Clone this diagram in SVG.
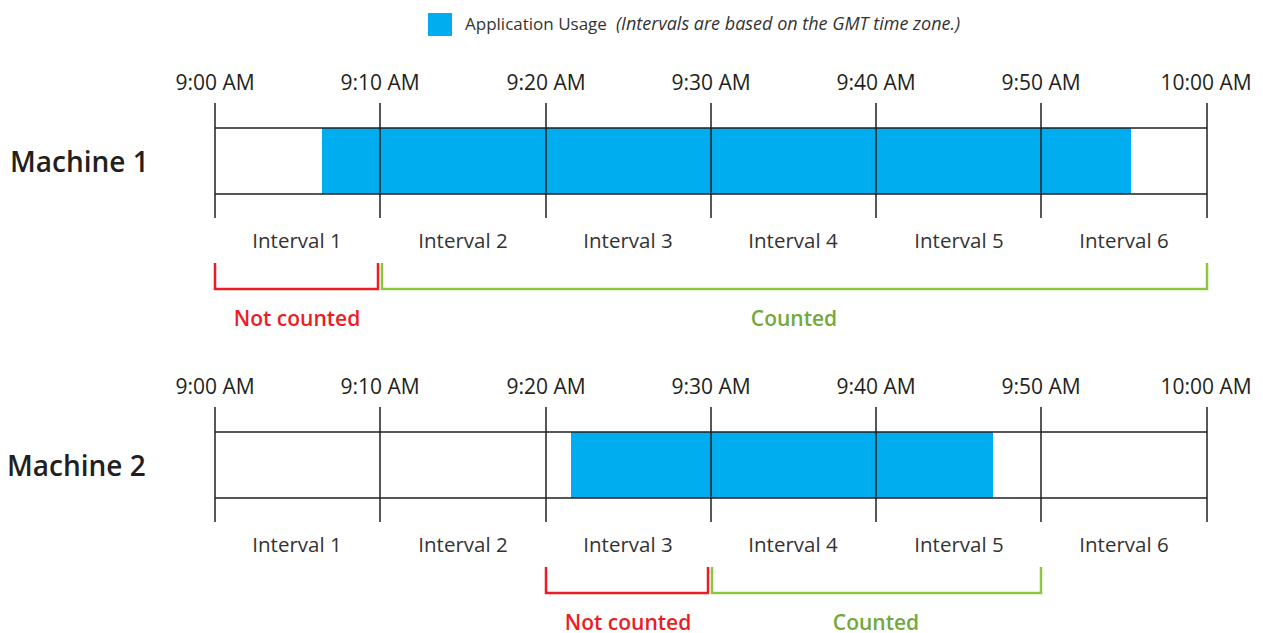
<svg xmlns="http://www.w3.org/2000/svg" width="1263" height="633" viewBox="0 0 1263 633">
<style>
text{font-family:"Open Sans","Noto Sans","Liberation Sans",sans-serif;}
.time{font-size:21px;fill:#231f20;text-anchor:middle;}
.iv{font-size:20.5px;fill:#333;text-anchor:middle;}
.mach{font-size:28px;font-weight:600;fill:#231f20;}
.nc{font-size:21px;font-weight:600;fill:#ed1c24;text-anchor:middle;}
.c{font-size:21px;font-weight:600;fill:#72a83c;text-anchor:middle;}
.lg{font-size:17px;fill:#333;}
.lgi{font-size:18px;fill:#333;font-style:italic;}
.line{stroke:#231f20;stroke-width:1.5;fill:none;}
.usage{fill:#00aeef;}
.red{stroke:#ed1c24;stroke-width:2.5;fill:none;}
.green{stroke:#8dc63f;stroke-width:2.5;fill:none;}
</style>
<rect width="1263" height="633" fill="#fff"/>
<g id="legend">
<rect class="usage" x="428" y="13" width="24" height="23"/>
<text class="lg" x="465" y="30">Application Usage</text>
<text class="lgi" x="616" y="30">(Intervals are based on the GMT time zone.)</text>
</g>
<g id="machine1">
<text class="mach" x="10" y="172">Machine 1</text>
<rect class="usage" x="322" y="128" width="809" height="66"/>
<path class="line" d="M215,128H1207M215,194H1207M215,103V218M380,103V218M546,103V218M711,103V218M876,103V218M1041,103V218M1207,103V218"/>
<text class="time" x="215" y="90">9:00 AM</text>
<text class="time" x="380" y="90">9:10 AM</text>
<text class="time" x="546" y="90">9:20 AM</text>
<text class="time" x="711" y="90">9:30 AM</text>
<text class="time" x="876" y="90">9:40 AM</text>
<text class="time" x="1041" y="90">9:50 AM</text>
<text class="time" x="1206" y="90">10:00 AM</text>
<text class="iv" x="297" y="248">Interval 1</text>
<text class="iv" x="463" y="248">Interval 2</text>
<text class="iv" x="628" y="248">Interval 3</text>
<text class="iv" x="793" y="248">Interval 4</text>
<text class="iv" x="959" y="248">Interval 5</text>
<text class="iv" x="1124" y="248">Interval 6</text>
</g>
<g id="machine2">
<text class="mach" x="7" y="476">Machine 2</text>
<rect class="usage" x="571" y="432" width="422" height="66"/>
<path class="line" d="M215,432H1207M215,498H1207M215,407V522M380,407V522M546,407V522M711,407V522M876,407V522M1041,407V522M1207,407V522"/>
<text class="time" x="215" y="394">9:00 AM</text>
<text class="time" x="380" y="394">9:10 AM</text>
<text class="time" x="546" y="394">9:20 AM</text>
<text class="time" x="711" y="394">9:30 AM</text>
<text class="time" x="876" y="394">9:40 AM</text>
<text class="time" x="1041" y="394">9:50 AM</text>
<text class="time" x="1206" y="394">10:00 AM</text>
<text class="iv" x="297" y="552">Interval 1</text>
<text class="iv" x="463" y="552">Interval 2</text>
<text class="iv" x="628" y="552">Interval 3</text>
<text class="iv" x="793" y="552">Interval 4</text>
<text class="iv" x="959" y="552">Interval 5</text>
<text class="iv" x="1124" y="552">Interval 6</text>
</g>
<g id="connectors">
<path class="red" d="M215,263V289H378V263"/>
<path class="green" d="M382,263V289H1207V263"/>
<path class="red" d="M546,567V593H708V567"/>
<path class="green" d="M712,567V593H1041V567"/>
</g>
<g id="labels">
<text class="nc" x="297" y="326">Not counted</text>
<text class="c" x="794" y="326">Counted</text>
<text class="nc" x="628" y="630">Not counted</text>
<text class="c" x="876" y="630">Counted</text>
</g>
</svg>
